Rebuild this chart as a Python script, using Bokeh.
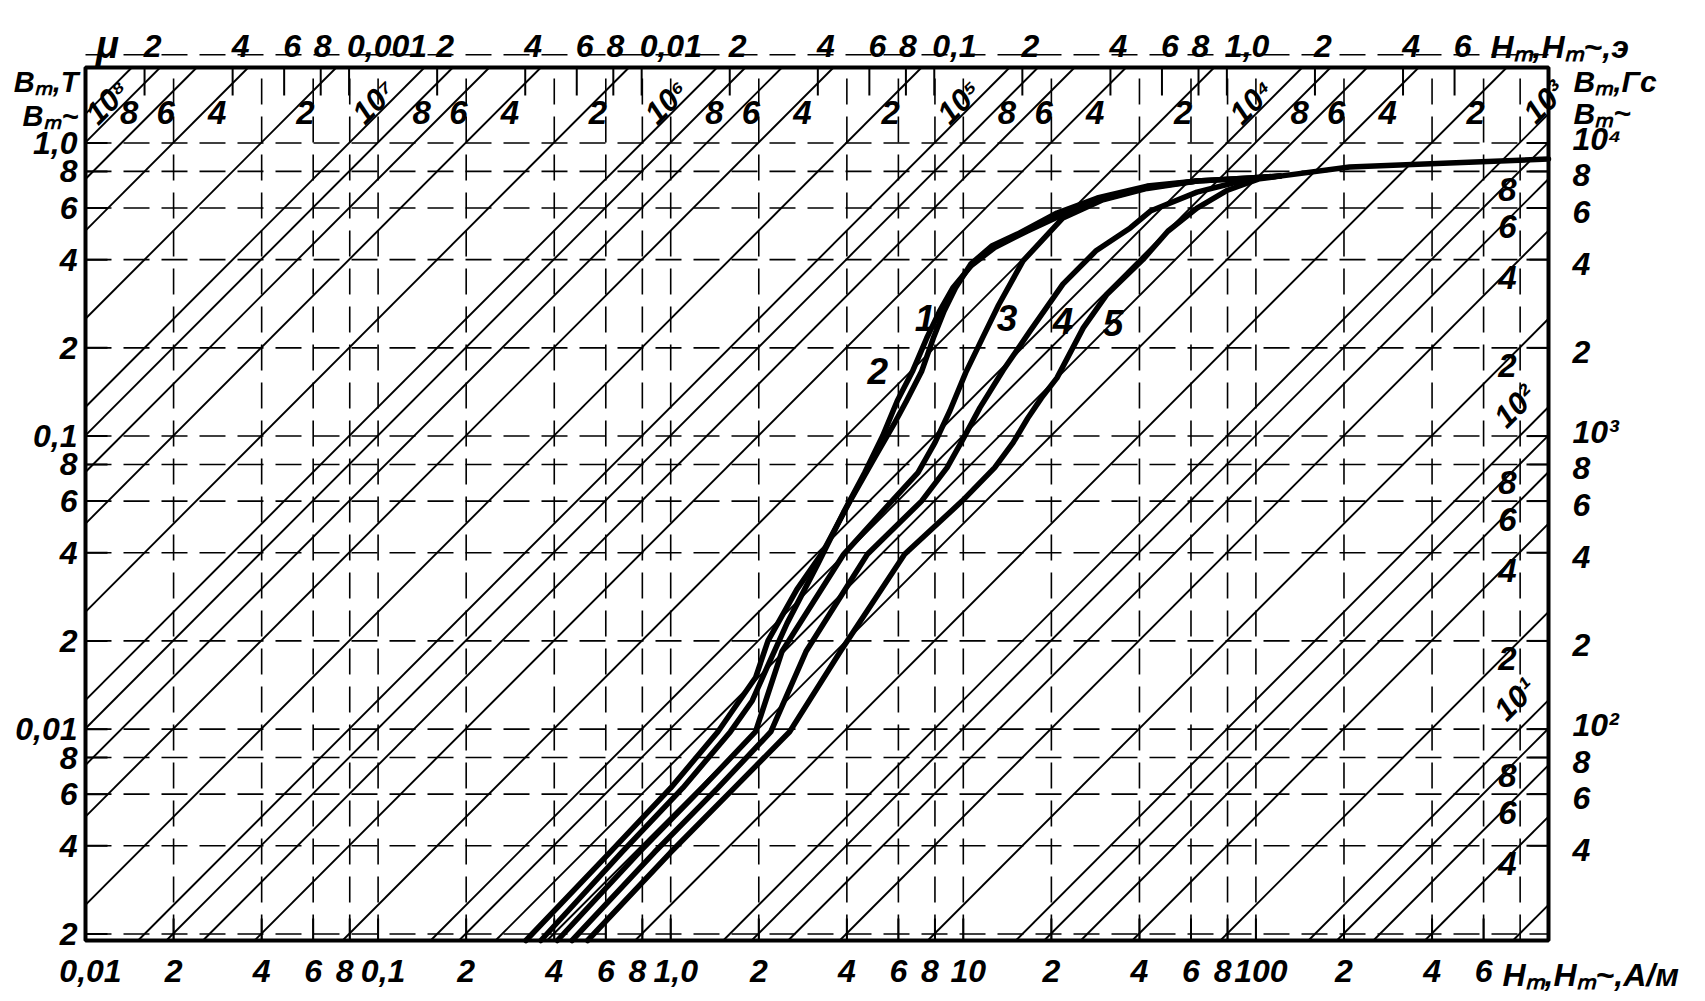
import math
from bokeh.plotting import figure
from bokeh.models import Range1d
from bokeh.core.properties import value
from bokeh.embed import file_html
from bokeh.resources import INLINE

MU0 = 4e-7 * math.pi                 # H/m
OE_TO_AM = 1000.0 / (4 * math.pi)    # 1 Oe in A/m

# ---------------- axis ticks / labels ----------------
h_ticks = [0.01, 0.02, 0.04, 0.06, 0.08, 0.1, 0.2, 0.4, 0.6, 0.8, 1.0, 2, 4, 6, 8,
           10, 20, 40, 60, 80, 100, 200, 400, 600]
h_labels = ["0,01", "2", "4", "6", "8", "0,1", "2", "4", "6", "8", "1,0", "2", "4", "6", "8",
            "10", "2", "4", "6", "8", "100", "2", "4", "6"]
oe_ticks = [0.0002, 0.0004, 0.0006, 0.0008, 0.001, 0.002, 0.004, 0.006, 0.008, 0.01,
            0.02, 0.04, 0.06, 0.08, 0.1, 0.2, 0.4, 0.6, 0.8, 1.0, 2, 4, 6]
oe_labels = ["2", "4", "6", "8", "0,001", "2", "4", "6", "8", "0,01", "2", "4", "6", "8",
             "0,1", "2", "4", "6", "8", "1,0", "2", "4", "6"]
b_ticks = [0.002, 0.004, 0.006, 0.008, 0.01, 0.02, 0.04, 0.06, 0.08, 0.1, 0.2, 0.4, 0.6, 0.8, 1.0]
b_labels = ["2", "4", "6", "8", "0,01", "2", "4", "6", "8", "0,1", "2", "4", "6", "8", "1,0"]
gs_ticks = [0.004, 0.006, 0.008, 0.01, 0.02, 0.04, 0.06, 0.08, 0.1, 0.2, 0.4, 0.6, 0.8, 1.0]
gs_labels = ["4", "6", "8", "10²", "2", "4", "6", "8", "10³", "2", "4", "6", "8", "10⁴"]

grid_h = [m * 10.0 ** k for k in range(-2, 3) for m in (1, 2, 4, 6, 8)]
grid_b = [m * 10.0 ** k for k in range(-3, 1) for m in (1, 2, 4, 6, 8)]

# ---------------- permeability lines (relative permeability) ----------------
mu_values = [m * 10.0 ** k for k in range(0, 8) for m in (2, 4, 6, 8, 10)]
mu_top = [1e8, 8e7, 6e7, 4e7, 2e7, 1e7, 8e6, 6e6, 4e6, 2e6, 1e6, 8e5, 6e5, 4e5, 2e5,
          1e5, 8e4, 6e4, 4e4, 2e4, 1e4, 8e3, 6e3, 4e3, 2e3, 1e3]
mu_top_text = ["10⁸", "8", "6", "4", "2", "10⁷", "8", "6", "4", "2", "10⁶", "8", "6", "4", "2",
               "10⁵", "8", "6", "4", "2", "10⁴", "8", "6", "4", "2", "10³"]
mu_right = [8e2, 6e2, 4e2, 2e2, 1e2, 80, 60, 40, 20, 10, 8, 6, 4]
mu_right_text = ["8", "6", "4", "2", "10²", "8", "6", "4", "2", "10¹", "8", "6", "4"]

# ---------------- magnetisation curves (H in A/m, B in T) ----------------
curve1_h = [0.32, 0.62, 1.0, 1.45, 1.95, 2.15, 2.7, 3.3, 4.1, 5.0, 5.8, 6.4, 7.2, 7.9, 8.6,
            9.4, 10.6, 12.5, 15.3, 20.9, 28.7, 42.5, 62.9, 95.4, 121, 209, 459, 1000]
curve1_b = [0.0019, 0.0038, 0.0063, 0.0098, 0.0150, 0.020, 0.030, 0.040, 0.060, 0.085, 0.110,
            0.132, 0.166, 0.216, 0.267, 0.320, 0.386, 0.445, 0.489, 0.577, 0.649, 0.713, 0.742,
            0.760, 0.771, 0.828, 0.855, 0.882]
curve2_h = [0.36, 0.68, 1.1, 1.6, 1.9, 2.15, 2.5, 3.2, 3.9, 4.6, 5.3, 5.95, 6.7, 7.5, 8.3,
            9.2, 10.6, 12.8, 16.5, 21.9, 29.4, 42.5, 62.9]
curve2_b = [0.0019, 0.0038, 0.0063, 0.0098, 0.0125, 0.0165, 0.023, 0.037, 0.055, 0.075, 0.100,
            0.132, 0.166, 0.216, 0.267, 0.320, 0.380, 0.440, 0.500, 0.570, 0.640, 0.705, 0.742]
curve3_h = [0.41, 0.78, 1.28, 1.95, 2.4, 3.9, 5.7, 7.0, 8.0, 9.0, 10.2, 11.6, 13.2, 16.0,
            21.9, 30.0, 42.5, 62.9, 95.4, 121]
curve3_b = [0.0019, 0.0038, 0.0063, 0.0098, 0.0184, 0.0395, 0.060, 0.075, 0.095, 0.122, 0.165,
            0.215, 0.280, 0.396, 0.555, 0.640, 0.700, 0.742, 0.760, 0.771]
curve4_h = [0.46, 0.88, 1.45, 2.2, 2.9, 4.7, 7.2, 8.8, 10.0, 11.4, 13.7, 16.9, 21.9, 28.5,
            37.2, 43.6, 62.9, 95.4, 121]
curve4_b = [0.0019, 0.0038, 0.0063, 0.0098, 0.0184, 0.0395, 0.060, 0.078, 0.098, 0.125, 0.168,
            0.228, 0.330, 0.430, 0.513, 0.586, 0.680, 0.755, 0.771]
curve5_h = [0.52, 1.0, 1.65, 2.55, 3.8, 6.3, 9.9, 12.8, 14.8, 16.6, 18.5, 20.9, 25.7, 31.0,
            41.1, 50.0, 62.9, 80.0, 103, 121]
curve5_b = [0.0019, 0.0038, 0.0063, 0.0098, 0.0184, 0.0395, 0.060, 0.078, 0.095, 0.115, 0.135,
            0.158, 0.234, 0.305, 0.400, 0.500, 0.600, 0.690, 0.755, 0.771]

curve_labels = ["1", "2", "3", "4", "5"]
curve_label_h = [7.4, 5.1, 14.1, 21.9, 32.5]
curve_label_b = [0.253, 0.167, 0.253, 0.247, 0.243]

# ---------------- geometry ----------------
FONT = "Liberation Sans"
W, H = 1697, 993
FL, FR, FT, FB = 85, 1548, 67, 940        # chart frame inside the canvas, px
H_MIN, H_MAX = 0.01, 1000.0
B_MIN, B_MAX = 0.0019, 1.81
TICK = 22

lx0, lx1 = math.log10(H_MIN), math.log10(H_MAX)
ly0, ly1 = math.log10(B_MIN), math.log10(B_MAX)
kx = (FR - FL) / (lx1 - lx0)
ky = (FB - FT) / (ly1 - ly0)

def hx(h, px):
    return h * 10 ** (px / kx)

def by(b, px):
    return b * 10 ** (px / ky)

p = figure(width=W, height=H, x_axis_type="log", y_axis_type="log",
           x_axis_location=None, y_axis_location=None,
           x_range=Range1d(10 ** (lx0 - FL / kx), 10 ** (lx1 + (W - FR) / kx)),
           y_range=Range1d(10 ** (ly0 - (H - FB) / ky), 10 ** (ly1 + FT / ky)),
           output_backend="svg", toolbar_location=None, min_border=0)
p.outline_line_color = None
p.grid.visible = False
p.background_fill_color = "white"
p.border_fill_color = "white"

# dashed grid
p.multi_line([[h, h] for h in grid_h], [[B_MIN, B_MAX] for h in grid_h],
             line_color="black", line_width=1.6, line_dash="26 12")
p.multi_line([[H_MIN, H_MAX] for b in grid_b], [[b, b] for b in grid_b],
             line_color="black", line_width=1.6, line_dash="26 12")

# permeability diagonals B = mu*mu0*H, clipped to the frame
dxs, dys = [], []
for mu in mu_values:
    c = math.log10(mu * MU0)
    a0, a1 = max(lx0, ly0 - c), min(lx1, ly1 - c)
    if a0 < a1:
        dxs.append([10 ** a0, 10 ** a1])
        dys.append([10 ** (a0 + c), 10 ** (a1 + c)])
p.multi_line(dxs, dys, line_color="black", line_width=1.9)

# inner ticks
oe_am = [v * OE_TO_AM for v in oe_ticks]
tx, ty = [], []
for b in b_ticks:
    tx.append([H_MIN, hx(H_MIN, TICK)]); ty.append([b, b])
for b in gs_ticks:
    tx.append([hx(H_MAX, -TICK), H_MAX]); ty.append([b, b])
for h in h_ticks:
    tx.append([h, h]); ty.append([B_MIN, by(B_MIN, TICK)])
for h in oe_am:
    tx.append([h, h]); ty.append([by(B_MAX, -TICK - 6), B_MAX])
p.multi_line(tx, ty, line_color="black", line_width=2)

# frame
p.quad(left=H_MIN, right=H_MAX, bottom=B_MIN, top=B_MAX, fill_color=None,
       line_color="black", line_width=4)

TXT = dict(text_font=value(FONT), text_font_style="bold italic", text_color="black")

# tick labels (bottom: A/m, top: Oe, left: T, right: Gs)
bot_dx = [5 if len(t) > 1 else (-5 if t == "8" else 0) for t in h_labels]
p.text(h_ticks, [B_MIN] * len(h_ticks), text=h_labels, x_offset=bot_dx, y_offset=30,
       text_align="center", text_baseline="middle", text_font_size="32px", **TXT)
top_multi = [i for i, t in enumerate(oe_labels) if len(t) > 1]
top_single = [i for i, t in enumerate(oe_labels) if len(t) == 1]
p.text([oe_am[i] for i in top_single], [B_MAX] * len(top_single),
       text=[oe_labels[i] for i in top_single],
       x_offset=[2 if oe_labels[i] == "8" else 8 for i in top_single], y_offset=-22,
       text_align="center", text_baseline="middle", text_font_size="32px", **TXT)
p.text([oe_am[i] for i in top_multi], [B_MAX] * len(top_multi),
       text=[oe_labels[i] for i in top_multi], x_offset=-2, y_offset=-22,
       text_align="left", text_baseline="middle", text_font_size="32px", **TXT)
p.text([H_MIN] * len(b_ticks), b_ticks, text=b_labels, x_offset=-8, text_align="right",
       text_baseline="middle", text_font_size="32px", **TXT)
p.text([H_MAX] * len(gs_ticks), gs_ticks, text=gs_labels, x_offset=24,
       y_offset=[-4 if t.startswith("10") else 4 for t in gs_labels],
       text_align="left", text_baseline="middle", text_font_size="32px", **TXT)

# titles
p.text([H_MIN], [B_MAX], text=["μ"], x_offset=22, y_offset=-23, text_align="center",
       text_baseline="middle", text_font_size="38px", **TXT)
p.text([H_MIN, H_MIN], [B_MAX, B_MAX], text=["Bₘ,T", "Bₘ~"], x_offset=-7,
       y_offset=[14, 48], text_align="right", text_baseline="middle",
       text_font_size="29px", **TXT)
p.text([H_MAX], [B_MAX], text=["Hₘ,Hₘ~,э"], x_offset=-58, y_offset=-21,
       text_align="left", text_baseline="middle", text_font_size="32px", **TXT)
p.text([H_MAX, H_MAX], [B_MAX, B_MAX], text=["Bₘ,Гс", "Bₘ~"], x_offset=25,
       y_offset=[14, 46], text_align="left", text_baseline="middle",
       text_font_size="30px", **TXT)
p.text([H_MAX], [B_MIN], text=["Hₘ,Hₘ~,A/м"], x_offset=-46, y_offset=34,
       text_align="left", text_baseline="middle", text_font_size="32px", **TXT)

# labels of diagonals along the top
B_TOP_DIGIT, B_TOP_POW = 1.27, 1.38
dig_x, dig_y, dig_t, pow_x, pow_y, pow_t = [], [], [], [], [], []
for mu, t in zip(mu_top, mu_top_text):
    if t.startswith("10"):
        pow_x.append(max(hx(B_TOP_POW / (mu * MU0), -16), hx(H_MIN, 22)))
        pow_y.append(B_TOP_POW); pow_t.append(t)
    else:
        dig_x.append(B_TOP_DIGIT / (mu * MU0)); dig_y.append(B_TOP_DIGIT); dig_t.append(t)
p.text(dig_x, dig_y, text=dig_t, x_offset=14, text_align="center", text_baseline="middle",
       text_font_size="33px", **TXT)
p.text(pow_x, pow_y, text=pow_t, angle=math.pi / 4, text_align="center",
       text_baseline="middle", text_font_size="31px", **TXT)

# labels of diagonals along the right edge
H_RIGHT_DIGIT, H_RIGHT_POW = 724.0, 770.0
rd_x, rd_y, rd_t, rp_x, rp_y, rp_t = [], [], [], [], [], []
for mu, t in zip(mu_right, mu_right_text):
    if t.startswith("10"):
        rp_x.append(H_RIGHT_POW); rp_y.append(mu * MU0 * H_RIGHT_POW); rp_t.append(t)
    else:
        rd_x.append(H_RIGHT_DIGIT); rd_y.append(mu * MU0 * H_RIGHT_DIGIT); rd_t.append(t)
p.text(rd_x, rd_y, text=rd_t, y_offset=6, text_align="center", text_baseline="middle",
       text_font_size="33px", **TXT)
p.text(rp_x, rp_y, text=rp_t, y_offset=-34, angle=math.pi / 4, text_align="center",
       text_baseline="middle", text_font_size="31px", **TXT)

# magnetisation curves
for hh, bb in ((curve1_h, curve1_b), (curve2_h, curve2_b), (curve3_h, curve3_b),
               (curve4_h, curve4_b), (curve5_h, curve5_b)):
    p.line(hh, bb, line_color="black", line_width=5.5, line_join="round", line_cap="round")

p.text(curve_label_h, curve_label_b, text=curve_labels, text_align="center",
       text_baseline="middle", text_font_size="37px", **TXT)

open("out.html", "w").write(file_html(p, INLINE))
